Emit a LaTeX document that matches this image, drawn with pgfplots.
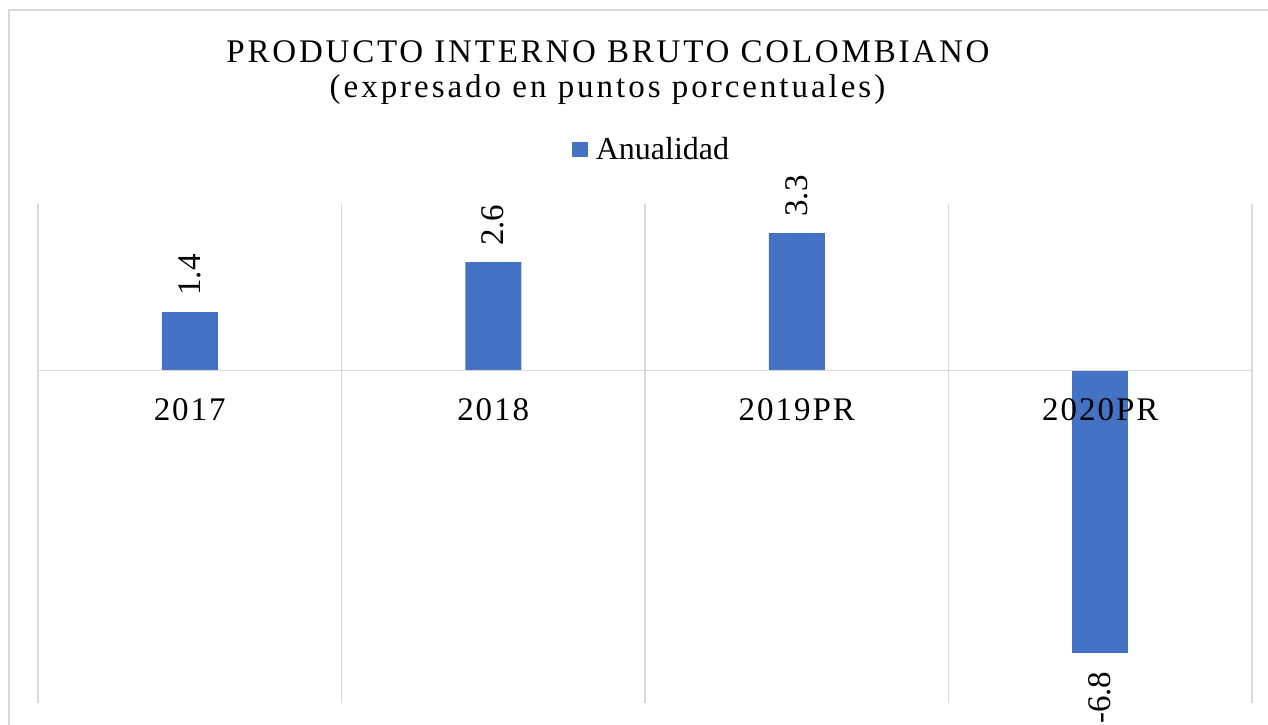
\documentclass[border=0pt]{standalone}
\usepackage{pgfplots}
\pgfplotsset{compat=1.18}
\usepackage{fontspec}
\setmainfont{Liberation Serif}
\newfontfamily\spaced{Liberation Serif}[LetterSpace=6]
\newfontfamily\spacedtitle{Liberation Serif}[LetterSpace=8.5]
\newfontfamily\spacedsub{Liberation Serif}[LetterSpace=9]
\definecolor{barblue}{HTML}{4472C4}
\definecolor{gridgray}{HTML}{D9D9D9}
\newcommand{\chartfont}{\fontsize{16.5}{19.8}\selectfont}
\begin{document}
\begin{tikzpicture}
\begin{axis}[
  at={(19pt,-102pt)}, anchor=north west,
  scale only axis, width=607pt, height=249.5pt,
  xmin=-0.5, xmax=3.5, ymin=-8, ymax=4,
  ybar, bar width=28pt,
  axis on top,
  axis x line*=middle, axis y line=none,
  x axis line style={gridgray, line width=0.75pt},
  xtick={0,1,2,3},
  xticklabels={2017,2018,2019PR,2020PR},
  minor xtick={-0.5,0.5,1.5,2.5,3.5},
  xminorgrids=true,
  minor grid style={gridgray, line width=0.75pt},
  major tick length=0pt, minor tick length=0pt,
  xticklabel style={font=\chartfont\spaced, anchor=base, yshift=-25pt},
  ytick=\empty,
  clip=false,
  point meta=explicit symbolic,
  legend style={at={(axis description cs:0.5,1)}, anchor=south, xshift=3.75pt, yshift=16.5pt,
    draw=none, fill=none, font=\fontsize{16}{19.2}\selectfont},
  legend image code/.code={\fill[#1,draw=none] (0pt,-3.5pt) rectangle (8pt,4pt);
    \path (0pt,0pt) -- (10pt,0pt);},
]
\addplot[fill=barblue, draw=none, bar shift=0pt,
  nodes near coords,
  every node near coord/.append style={font=\chartfont, rotate=90, anchor=west, inner xsep=8pt, inner ysep=0pt, text=black}]
  coordinates {(0,1.4) [1.4] (1,2.6) [2.6] (2,3.3) [3.3]};
\addlegendentry{Anualidad}
\addplot[fill=barblue, draw=none, bar shift=0pt, forget plot,
  nodes near coords,
  every node near coord/.append style={font=\chartfont, rotate=90, anchor=east, inner xsep=9pt, inner ysep=0pt, text=black}]
  coordinates {(3,-6.8) [-6.8]};
\end{axis}
\node[anchor=base, font=\chartfont\spacedtitle] at (304pt,-31pt) {PRODUCTO INTERNO BRUTO COLOMBIANO};
\node[anchor=base, font=\chartfont\spacedsub] at (303.75pt,-48.5pt) {(expresado en puntos porcentuales)};
\draw[gridgray, line width=0.75pt] (640pt,-5pt) -- (4.5pt,-5pt) -- (4.5pt,-370pt);
\pgfresetboundingbox
\path[use as bounding box] (0pt,0pt) rectangle (634pt,-362pt);
\end{tikzpicture}
\end{document}
